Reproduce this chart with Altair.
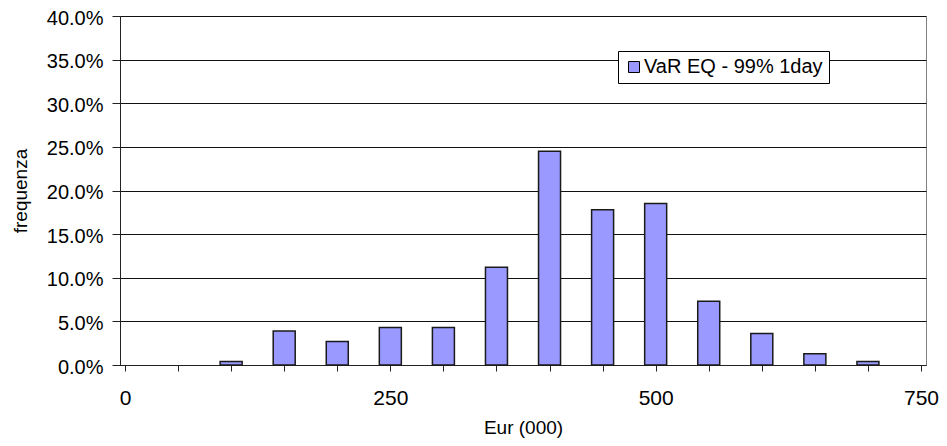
import altair as alt
import pandas as pd

# ---- data ----
bins = [100, 150, 200, 250, 300, 350, 400, 450, 500, 550, 600, 650, 700]
freq = [0.004, 0.039, 0.027, 0.043, 0.043, 0.112, 0.245, 0.178, 0.185, 0.073, 0.036, 0.013, 0.004]
series_name = "VaR EQ - 99% 1day"
x_tick_values = [0, 50, 100, 150, 200, 250, 300, 350, 400, 450, 500, 550, 600, 650, 700, 750]
x_label_values = [0, 250, 500, 750]
y_tick_values = [0.0, 0.05, 0.10, 0.15, 0.20, 0.25, 0.30, 0.35, 0.40]

df = pd.DataFrame({"eur": bins, "freq": freq, "serie": [series_name] * len(bins)})

FONT = "Liberation Sans"
label_expr = ("indexof([" + ",".join(str(v) for v in x_label_values)
              + "], datum.value) >= 0 ? datum.label : ''")

chart = alt.Chart(df).mark_bar(size=22, stroke="#1a1a1a", strokeWidth=1.5).encode(
    x=alt.X(
        "eur:Q",
        scale=alt.Scale(domain=[0, 750], nice=False, zero=True),
        axis=alt.Axis(
            values=x_tick_values, labelExpr=label_expr, format="d",
            title="Eur (000)", grid=False, tickSize=6, tickColor="#222",
            domainColor="#222", labelPadding=16, labelFontSize=21, labelFont=FONT,
            labelColor="black", labelFlush=False, labelOverlap=False,
            titleFontSize=19, titleFont=FONT, titleFontWeight="normal",
            titleColor="black", titleY=53, titleBaseline="top",
        ),
    ),
    y=alt.Y(
        "freq:Q",
        scale=alt.Scale(domain=[0, 0.4], nice=False),
        axis=alt.Axis(
            values=y_tick_values, format=".1%", title="frequenza",
            grid=True, gridColor="#111", gridWidth=1, tickSize=8, tickColor="#222",
            domainColor="#222", labelPadding=9, labelFontSize=20, labelFont=FONT,
            labelColor="black", labelOffset=2, labelOverlap=False,
            titleFontSize=19, titleFont=FONT, titleFontWeight="normal",
            titleColor="black", titleX=-100, titleY=174.5, titleAngle=-90,
            titleBaseline="middle", titleAlign="center",
        ),
    ),
    fill=alt.Fill(
        "serie:N",
        scale=alt.Scale(domain=[series_name], range=["#9999FF"]),
        legend=alt.Legend(
            title=None, orient="none", legendX=498, legendY=35,
            fillColor="white", strokeColor="black", padding=6,
            labelFontSize=20, labelFont=FONT, labelColor="black", labelLimit=400,
            labelOffset=0, symbolType="square", symbolSize=121,
            symbolStrokeColor="black", symbolStrokeWidth=1,
        ),
    ),
).properties(
    width=806,
    height=349,
    autosize=alt.AutoSizeParams(type="none"),
    padding={"left": 112, "top": 8, "right": 13, "bottom": 73},
    background="white",
).configure_view(
    stroke="#808080", strokeWidth=1,
)

chart.save("out.html", embed_options={"renderer": "svg", "actions": False})
